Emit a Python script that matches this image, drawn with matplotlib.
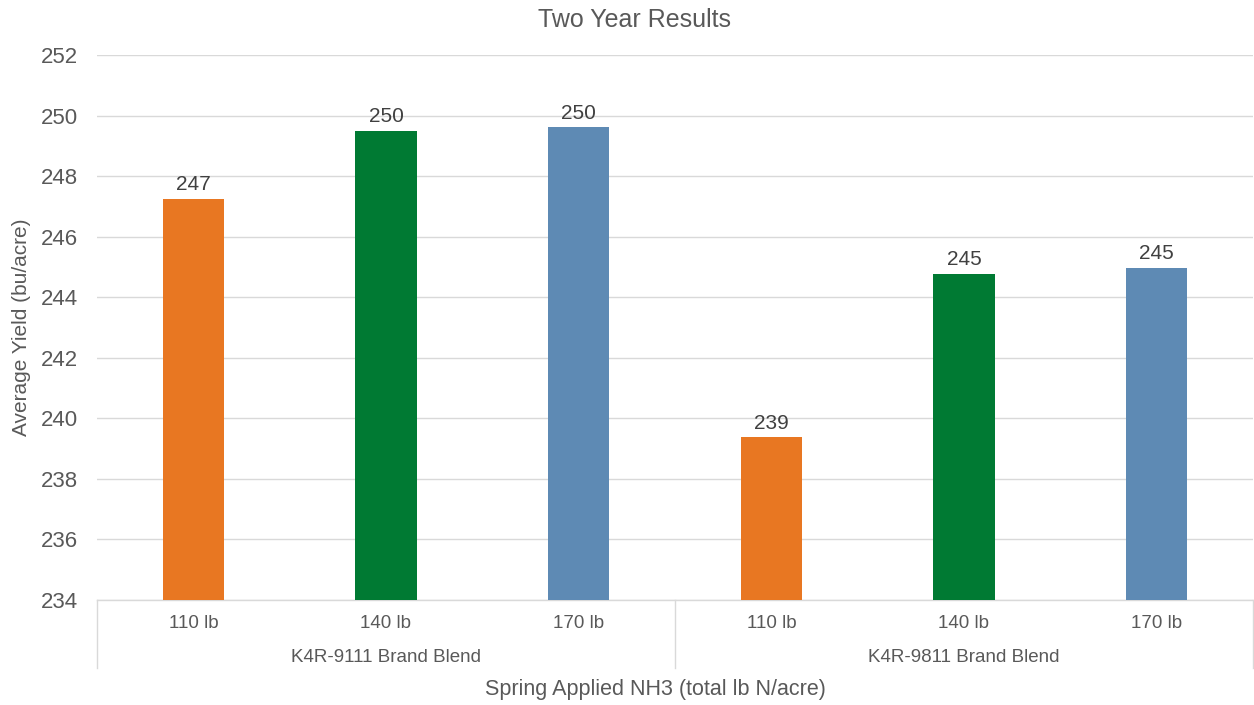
import matplotlib.pyplot as plt
import matplotlib.transforms as mtransforms
from matplotlib.lines import Line2D
import numpy as np

plt.rcParams['font.family'] = ['Liberation Sans', 'DejaVu Sans']

groups = ['K4R-9111 Brand Blend', 'K4R-9811 Brand Blend']
rates = ['110 lb', '140 lb', '170 lb']
yields_9111 = [247.25, 249.5, 249.62]
yields_9811 = [239.37, 244.77, 244.97]
colors = ['#E87722', '#007A33', '#5E8AB4']

W, H = 1254, 705
fig = plt.figure(figsize=(W / 100, H / 100), dpi=100)
ax = fig.add_axes([97 / W, 1 - 600 / H, (1253 - 97) / W, (600 - 55) / H])

values = yields_9111 + yields_9811
x = np.arange(len(values))
bar_colors = colors * len(groups)
ax.bar(x, values, width=0.32, color=bar_colors, zorder=3)

for xi, v in zip(x, values):
    ax.text(xi, v + 0.15, f'{v:.0f}', ha='center', va='bottom',
            fontsize=15, color='#404040', zorder=4)

ax.set_xlim(-0.5, len(values) - 0.5)
ax.set_ylim(234, 252)
ax.set_yticks(np.arange(234, 253, 2))
ax.tick_params(axis='y', length=0, labelsize=16, labelcolor='#595959', pad=14)
ax.set_xticks([])
ax.grid(axis='y', color='#d9d9d9', linewidth=1, zorder=0)
for s in ['top', 'right', 'left']:
    ax.spines[s].set_visible(False)
ax.spines['bottom'].set_color('#d9d9d9')
ax.spines['bottom'].set_linewidth(1)

# category labels under the axis
trans = mtransforms.blended_transform_factory(ax.transData, fig.transFigure)
for xi, lab in zip(x, rates * len(groups)):
    ax.text(xi, 1 - 624 / H, lab, transform=trans, ha='center', va='center',
            fontsize=13.5, color='#595959')
for gi, g in enumerate(groups):
    ax.text(gi * 3 + 1, 1 - 657 / H, g, transform=trans, ha='center', va='center',
            fontsize=13.5, color='#595959')
for xb in [-0.5, 2.5, 5.5]:
    ax.add_line(Line2D([xb, xb], [1 - 600 / H, 1 - 668 / H], transform=trans,
                       color='#d9d9d9', linewidth=1, clip_on=False))

fig.text(655 / W, 1 - 690 / H, 'Spring Applied NH3 (total lb N/acre)',
         ha='center', va='center', fontsize=15.5, color='#595959')
fig.text(22 / W, 1 - 327 / H, 'Average Yield (bu/acre)', rotation=90,
         ha='center', va='center', fontsize=15, color='#595959')
fig.text(634 / W, 1 - 20 / H, 'Two Year Results', ha='center', va='center',
         fontsize=18, color='#595959')

fig.savefig('out.png', dpi=100)
